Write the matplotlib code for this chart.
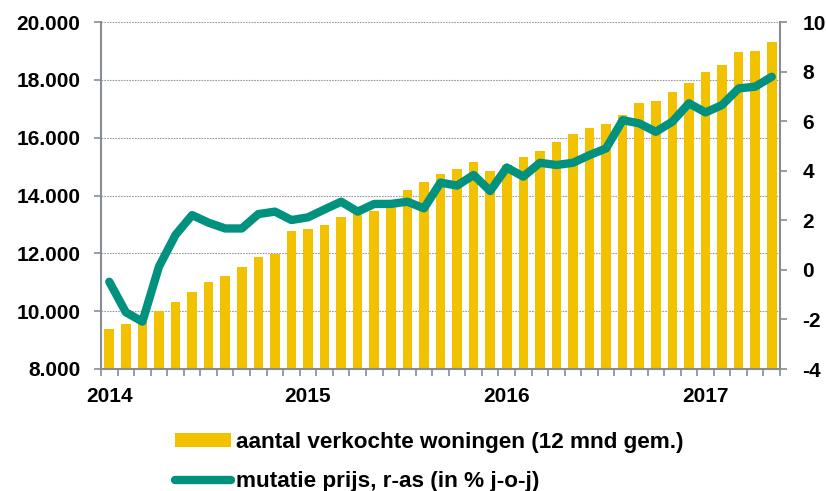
import matplotlib
matplotlib.use("Agg")
import matplotlib.pyplot as plt
import matplotlib.ticker as mticker
from matplotlib.lines import Line2D
from matplotlib.patches import Patch
import numpy as np
import pandas as pd

plt.rcParams['font.family'] = ['Liberation Sans', 'DejaVu Sans']
plt.rcParams['font.weight'] = 'bold'
plt.rcParams['axes.unicode_minus'] = False

# maanden jan 2014 - mei 2017
months = pd.date_range("2014-01-01", periods=41, freq="MS")

# aantal verkochte woningen (12 mnd gem.)
sales = [9400, 9560, 9700, 10000, 10320, 10650, 11000, 11200, 11520, 11870,
         11970, 12780, 12830, 12970, 13250, 13380, 13475, 13600, 14180, 14480,
         14750, 14920, 15160, 14850, 15050, 15320, 15550, 15850, 16115, 16345,
         16460, 16800, 17190, 17280, 17590, 17900, 18280, 18510, 18970, 19000,
         19320]

# mutatie prijs, r-as (in % j-o-j)
price_change = [-0.48, -1.71, -2.09, 0.13, 1.41, 2.21, 1.90, 1.67, 1.67, 2.25,
                2.35, 2.01, 2.12, 2.44, 2.75, 2.35, 2.66, 2.66, 2.75, 2.48,
                3.52, 3.40, 3.83, 3.18, 4.13, 3.76, 4.32, 4.23, 4.32, 4.63,
                4.90, 6.04, 5.91, 5.57, 5.98, 6.72, 6.35, 6.65, 7.32, 7.39,
                7.79]

sales_label = "aantal verkochte woningen (12 mnd gem.)"
price_label = "mutatie prijs, r-as (in % j-o-j)"

bar_color = "#F2C200"
line_color = "#00927F"
axis_color = "#858C94"

fig = plt.figure(figsize=(8.26, 4.91), dpi=100)
ax1 = fig.add_axes([101 / 826, 1 - 369 / 491, 679 / 826, 347 / 491])
ax2 = ax1.twinx()

x = np.arange(len(months))
ax1.bar(x, sales, width=0.58, color=bar_color, zorder=2)
ax2.plot(x, price_change, color=line_color, lw=6, solid_joinstyle='round',
         solid_capstyle='round', zorder=3)

ax1.set_xlim(-0.5, len(months) - 0.5)
ax1.set_ylim(8000, 20000)
ax1.set_yticks(np.arange(8000, 20001, 2000))
ax1.yaxis.set_major_formatter(
    mticker.FuncFormatter(lambda v, p: f"{int(v):,}".replace(",", ".")))
ax2.set_ylim(-4, 10)
ax2.set_yticks(np.arange(-4, 11, 2))

ax1.set_axisbelow(True)
ax1.yaxis.grid(True, linestyle=(0, (1.5, 1)), color="#9A9A9A", lw=0.8)

# maandgrenzen als ticks, jaartallen in het midden van januari
ax1.set_xticks(np.arange(-0.5, len(months)))
ax1.set_xticklabels([])
jan = [i for i, m in enumerate(months) if m.month == 1]
ax1.set_xticks(jan, minor=True)
ax1.set_xticklabels([str(months[i].year) for i in jan], minor=True)
ax1.tick_params(axis='x', which='major', length=5, width=1.2, color=axis_color)
ax1.tick_params(axis='x', which='minor', length=0, pad=13, labelsize=15)

ax1.tick_params(axis='y', length=5, width=1.2, color=axis_color, pad=10,
                labelsize=15)
ax2.tick_params(axis='y', length=5, width=1.2, color=axis_color, pad=11,
                labelsize=15)

for ax in (ax1, ax2):
    ax.spines['top'].set_visible(False)
    for s in ('left', 'right', 'bottom'):
        ax.spines[s].set_color(axis_color)
        ax.spines[s].set_linewidth(1.5)
ax1.spines['right'].set_visible(False)
ax2.spines['left'].set_visible(False)
ax2.spines['bottom'].set_visible(False)

handles = [Patch(facecolor=bar_color, edgecolor='none'),
           Line2D([0], [0], color=line_color, lw=6, solid_capstyle='round')]
fig.legend(handles, [sales_label, price_label], loc='upper left',
           bbox_to_anchor=(175 / 826, 1 - 432 / 491), frameon=False,
           fontsize=16.2, handlelength=2.5, handleheight=0.55,
           handletextpad=0.2, labelspacing=0.8, borderpad=0,
           borderaxespad=0)

fig.savefig("out.png", dpi=100)
